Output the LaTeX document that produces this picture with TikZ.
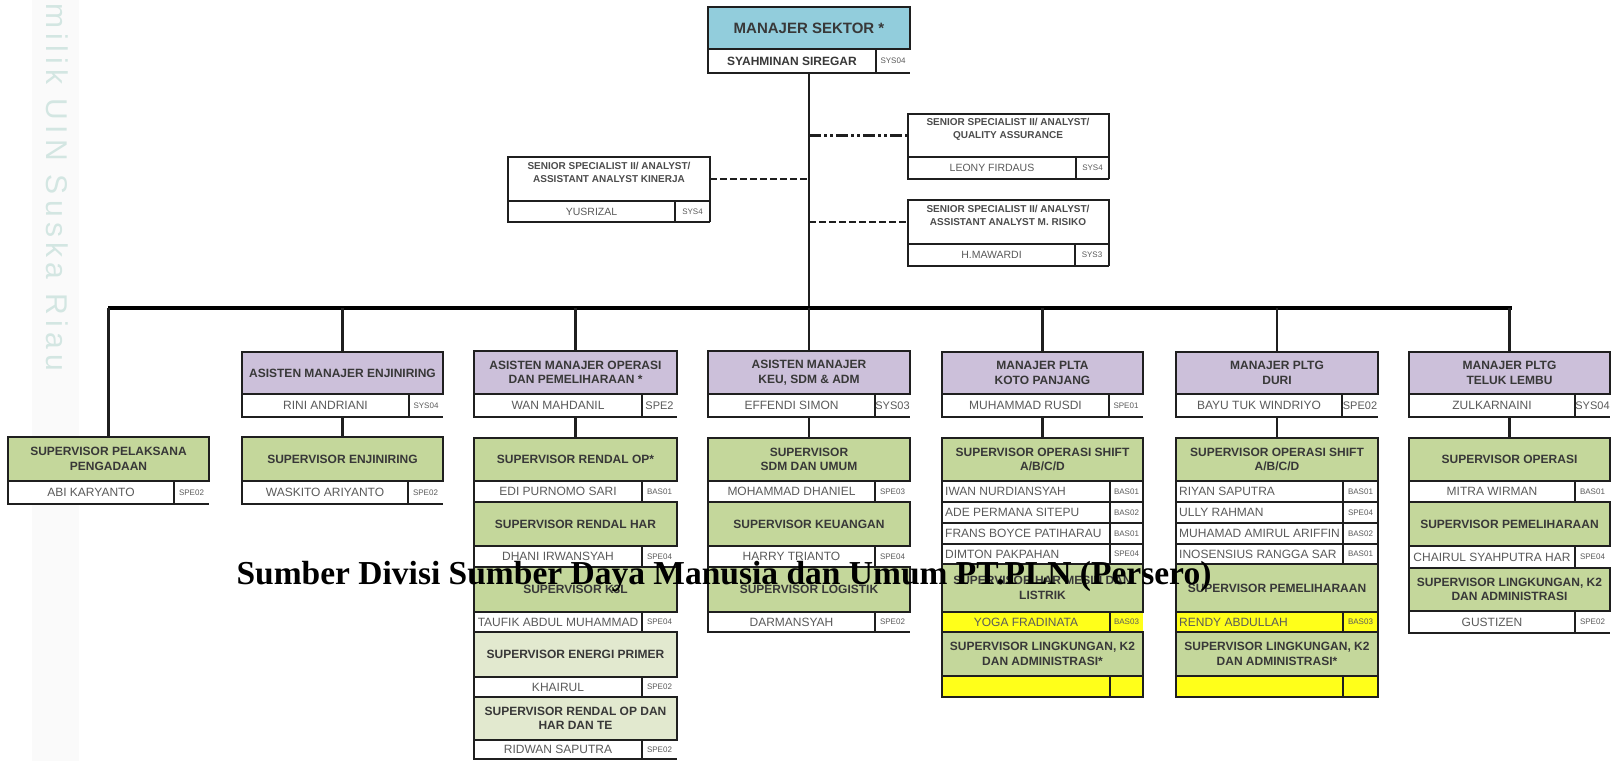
\documentclass[tikz,border=0pt]{standalone}
\usepackage{fontspec}
\setmainfont{Liberation Serif}
\setsansfont{Liberation Sans}
\definecolor{cyanH}{HTML}{92CDDC}
\definecolor{purH}{HTML}{CCC0DA}
\definecolor{grnH}{HTML}{C4D79B}
\definecolor{grnP}{HTML}{E2E9CF}
\definecolor{yelR}{HTML}{FFFF1A}
\definecolor{txtH}{HTML}{383838}
\definecolor{txtN}{HTML}{5A5A5A}
\definecolor{wmc}{HTML}{D3E6E2}
\pgfdeclarelayer{paper}
\pgfdeclarelayer{bg}
\pgfsetlayers{paper,bg,main}
\tikzset{
  bline/.style={line width=2.6pt, draw=black!88},
  hdr/.style={draw=black!88, line width=2.6pt, inner sep=0pt, outer sep=0pt, align=center,
    font=\sffamily\bfseries\fontsize{12}{14.5}\selectfont, text=txtH},
  nametxt/.style={inner sep=0pt, font=\sffamily\fontsize{12}{14}\selectfont, text=txtN},
  codetxt/.style={inner sep=0pt, font=\sffamily\fontsize{8}{9}\selectfont, text=txtN},
  sstxt/.style={inner sep=0pt, align=center, font=\sffamily\bfseries\fontsize{10}{13}\selectfont, text=black!70},
  conn/.style={line width=2.6pt, draw=black!88},
  barline/.style={line width=4.5pt, draw=black},
  dashA/.style={line width=3.2pt, draw=black!88, dash pattern=on 12pt off 3pt on 3pt off 3pt on 3pt off 3pt},
  dashB/.style={line width=1.6pt, draw=black!88, dash pattern=on 7pt off 3pt},
}
\newcommand\codeL{\fontsize{11}{13}\selectfont}
\newcommand\ssn{\fontsize{10.5}{12}\selectfont}
\newcommand\hdrbox[7]{%
  \pgfmathsetmacro\bw{#4-#3}\pgfmathsetmacro\bh{#6-#5}%
  \node[hdr,#1,minimum width=\bw pt,minimum height=\bh pt,anchor=north west] (#2) at (#3,#5) {#7};}
\newcommand\nrow[9][white]{%
  \fill[#1] (#3,#6) rectangle (#5,#7);
  \node[nametxt] (#2) at ({(#3+#4)/2},{(#6+#7)/2}) {#8};
  \node[codetxt] (#2c) at ({(#4+#5)/2},{(#6+#7)/2}) {#9};
  \draw[bline] (#5,#6) -- (#3,#6) -- (#3,#7) -- (#5,#7) (#4,#6) -- (#4,#7);}
\newcommand\nrowl[9][white]{%
  \fill[#1] (#3,#6) rectangle (#5,#7);
  \node[nametxt,anchor=west] (#2) at ({#3+3},{(#6+#7)/2}) {#8};
  \node[codetxt] (#2c) at ({(#4+#5)/2},{(#6+#7)/2}) {#9};
  \draw[bline] (#3,#6) rectangle (#5,#7) (#4,#6) -- (#4,#7);}
\begin{document}
\begin{tikzpicture}[x=1pt,y=-1pt]
\begin{pgfonlayer}{paper}
\fill[white] (0,0) rectangle (1618,761);
\end{pgfonlayer}
\useasboundingbox (0,0) rectangle (1618,761);
% watermark
\begin{pgfonlayer}{bg}
\fill[black!2] (32,0) rectangle (79,761);
\node[rotate=-90, anchor=west, text=wmc, inner sep=0pt,
  font=\sffamily\fontsize{30}{30}\selectfont\addfontfeatures{LetterSpace=18}] (wmk) at (57,3) {milik UIN Suska Riau};
\end{pgfonlayer}

% top manager
\hdrbox{fill=cyanH, font=\sffamily\bfseries\fontsize{15}{17}\selectfont, text=black!78}{mgr}{708}{910}{7}{49}{MANAJER SEKTOR *}
\nrow{mgrn}{708}{876}{910}{49}{73}{\bfseries\color{black!78}SYAHMINAN SIREGAR}{SYS04}

% senior specialists
\hdrbox{fill=white}{kin}{508}{710}{157}{201}{}
\node[sstxt] (kint) at (609,172) {SENIOR SPECIALIST II/ ANALYST/\\ASSISTANT ANALYST KINERJA};
\nrow{kinn}{508}{675}{710}{201}{222}{\ssn YUSRIZAL}{SYS4}
\draw[bline] (710,201) -- (710,222);

\hdrbox{fill=white}{qa}{908}{1109}{114}{157}{}
\node[sstxt] (qat) at (1008,129) {SENIOR SPECIALIST II/ ANALYST/\\QUALITY ASSURANCE};
\nrow{qan}{908}{1076}{1109}{157}{179}{\ssn LEONY FIRDAUS}{SYS4}
\draw[bline] (1109,157) -- (1109,179);

\hdrbox{fill=white}{rk}{908}{1109}{200}{244}{}
\node[sstxt] (rkt) at (1008,215) {SENIOR SPECIALIST II/ ANALYST/\\ASSISTANT ANALYST M. RISIKO};
\nrow{rkn}{908}{1075}{1109}{244}{266}{\ssn H.MAWARDI}{SYS3}
\draw[bline] (1109,244) -- (1109,266);

% column 1
\hdrbox{fill=grnH}{c1h}{8}{209}{437}{481}{SUPERVISOR PELAKSANA\\PENGADAAN}
\nrow{c1n}{8}{174}{209}{481}{504}{ABI KARYANTO}{SPE02}

% column 2
\hdrbox{fill=purH}{c2h}{242}{443}{352}{394}{ASISTEN MANAJER ENJINIRING}
\nrow{c2n}{242}{409}{443}{394}{417}{RINI ANDRIANI}{SYS04}
\hdrbox{fill=grnH}{c2s1}{242}{443}{437}{481}{SUPERVISOR ENJINIRING}
\nrow{c2s1n}{242}{408}{443}{481}{504}{WASKITO ARIYANTO}{SPE02}

% column 3
\hdrbox{fill=purH}{c3h}{474}{677}{351}{394}{ASISTEN MANAJER OPERASI\\DAN PEMELIHARAAN *}
\nrow{c3n}{474}{642}{677}{394}{417}{WAN MAHDANIL}{\codeL SPE2}
\hdrbox{fill=grnH}{c3s1}{474}{677}{438}{481}{SUPERVISOR RENDAL OP*}
\nrow{c3s1n}{474}{642}{677}{481}{502}{EDI PURNOMO SARI}{BAS01}
\hdrbox{fill=grnH}{c3s2}{474}{677}{502}{546}{SUPERVISOR RENDAL HAR}
\nrow{c3s2n}{474}{642}{677}{546}{567}{DHANI IRWANSYAH}{SPE04}
\hdrbox{fill=grnH}{c3s3}{474}{677}{567}{612}{SUPERVISOR K3L}
\nrow{c3s3n}{474}{642}{677}{612}{632}{TAUFIK ABDUL MUHAMMAD}{SPE04}
\hdrbox{fill=grnP}{c3s4}{474}{677}{632}{677}{SUPERVISOR ENERGI PRIMER}
\nrow{c3s4n}{474}{642}{677}{677}{697}{KHAIRUL}{SPE02}
\hdrbox{fill=grnP}{c3s5}{474}{677}{697}{740}{SUPERVISOR RENDAL OP DAN\\HAR DAN TE}
\nrow{c3s5n}{474}{642}{677}{740}{759}{RIDWAN SAPUTRA}{SPE02}

% column 4
\hdrbox{fill=purH}{c4h}{708}{910}{351}{394}{ASISTEN MANAJER\\KEU, SDM \& ADM}
\nrow{c4n}{708}{875}{910}{394}{417}{EFFENDI SIMON}{\codeL SYS03}
\hdrbox{fill=grnH}{c4s1}{708}{910}{438}{481}{SUPERVISOR\\SDM DAN UMUM}
\nrow{c4s1n}{708}{875}{910}{481}{502}{MOHAMMAD DHANIEL}{SPE03}
\hdrbox{fill=grnH}{c4s2}{708}{910}{502}{546}{SUPERVISOR KEUANGAN}
\nrow{c4s2n}{708}{875}{910}{546}{567}{HARRY TRIANTO}{SPE04}
\hdrbox{fill=grnH}{c4s3}{708}{910}{567}{612}{SUPERVISOR LOGISTIK}
\nrow{c4s3n}{708}{875}{910}{612}{632}{DARMANSYAH}{SPE02}

% column 5
\hdrbox{fill=purH}{c5h}{942}{1143}{352}{394}{MANAJER PLTA\\KOTO PANJANG}
\nrow{c5n}{942}{1109}{1143}{394}{417}{MUHAMMAD RUSDI}{SPE01}
\hdrbox{fill=grnH}{c5s1}{942}{1143}{438}{481}{SUPERVISOR OPERASI SHIFT\\A/B/C/D}
\nrowl{c5a}{942}{1110}{1143}{481}{502}{IWAN NURDIANSYAH}{BAS01}
\nrowl{c5b}{942}{1110}{1143}{502}{523}{ADE PERMANA SITEPU}{BAS02}
\nrowl{c5c}{942}{1110}{1143}{523}{544}{FRANS BOYCE PATIHARAU}{BAS01}
\nrowl{c5d}{942}{1110}{1143}{544}{564}{DIMTON PAKPAHAN}{SPE04}
\hdrbox{fill=grnH}{c5s2}{942}{1143}{564}{612}{SUPERVISOR HAR MESIN DAN\\LISTRIK}
\nrow[yelR]{c5s2n}{942}{1110}{1143}{612}{632}{YOGA FRADINATA}{BAS03}
\hdrbox{fill=grnH}{c5s3}{942}{1143}{632}{676}{SUPERVISOR LINGKUNGAN, K2\\DAN ADMINISTRASI*}
\nrowl[yelR]{c5s3n}{942}{1110}{1143}{676}{697}{}{}

% column 6
\hdrbox{fill=purH}{c6h}{1176}{1378}{352}{394}{MANAJER PLTG\\DURI}
\nrow{c6n}{1176}{1342}{1378}{394}{417}{BAYU TUK WINDRIYO}{\codeL SPE02}
\hdrbox{fill=grnH}{c6s1}{1176}{1378}{438}{481}{SUPERVISOR OPERASI SHIFT\\A/B/C/D}
\nrowl{c6a}{1176}{1343}{1378}{481}{502}{RIYAN SAPUTRA}{BAS01}
\nrowl{c6b}{1176}{1343}{1378}{502}{523}{ULLY RAHMAN}{SPE04}
\nrowl{c6c}{1176}{1343}{1378}{523}{544}{MUHAMAD AMIRUL ARIFFIN}{BAS02}
\nrowl{c6d}{1176}{1343}{1378}{544}{564}{INOSENSIUS RANGGA SAR}{BAS01}
\hdrbox{fill=grnH}{c6s2}{1176}{1378}{564}{612}{SUPERVISOR PEMELIHARAAN}
\nrowl[yelR]{c6s2n}{1176}{1343}{1378}{612}{632}{RENDY ABDULLAH}{BAS03}
\hdrbox{fill=grnH}{c6s3}{1176}{1378}{632}{676}{SUPERVISOR LINGKUNGAN, K2\\DAN ADMINISTRASI*}
\nrowl[yelR]{c6s3n}{1176}{1343}{1378}{676}{697}{}{}

% column 7
\hdrbox{fill=purH}{c7h}{1409}{1610}{352}{394}{MANAJER PLTG\\TELUK LEMBU}
\nrow{c7n}{1409}{1575}{1610}{394}{417}{ZULKARNAINI}{\codeL SYS04}
\hdrbox{fill=grnH}{c7s1}{1409}{1610}{438}{481}{SUPERVISOR OPERASI}
\nrow{c7s1n}{1409}{1575}{1610}{481}{502}{MITRA WIRMAN}{BAS01}
\hdrbox{fill=grnH}{c7s2}{1409}{1610}{502}{546}{SUPERVISOR PEMELIHARAAN}
\nrow{c7s2n}{1409}{1575}{1610}{546}{568}{CHAIRUL SYAHPUTRA HAR}{SPE04}
\hdrbox{fill=grnH}{c7s3}{1409}{1610}{568}{611}{SUPERVISOR LINGKUNGAN, K2\\DAN ADMINISTRASI}
\nrow{c7s3n}{1409}{1575}{1610}{611}{633}{GUSTIZEN}{SPE02}

% connectors
\begin{pgfonlayer}{bg}
\coordinate (barL) at (108,308);
\coordinate (barR) at (1512,308);
\draw[conn] (mgr.south) -- (mgr.south |- barL);
\draw[barline] (barL) -- (barR);
\foreach \c in {c1h,c2h,c3h,c4h,c5h,c6h,c7h}
  \draw[conn] (\c.north) -- (\c.north |- barL);
\draw[conn] (c2h.south) -- (c2s1.north);
\draw[conn] (c3h.south) -- (c3s1.north);
\draw[conn] (c4h.south) -- (c4s1.north);
\draw[conn] (c5h.south) -- (c5s1.north);
\draw[conn] (c6h.south) -- (c6s1.north);
\draw[conn] (c7h.south) -- (c7s1.north);
\draw[dashA] (mgr.south |- qa.west) -- (qa.west);
\draw[dashB] (mgr.south |- rk.west) -- (rk.west);
\draw[dashB] (kin.east) -- (kin.east -| mgr.south);
\end{pgfonlayer}

% caption
\node[inner sep=0pt, anchor=base, font=\rmfamily\bfseries\fontsize{33.5}{36}\selectfont, text=black] (cap) at (724,584)
  {Sumber Divisi Sumber Daya Manusia dan Umum PT.PLN (Persero)};
\end{tikzpicture}
\end{document}
